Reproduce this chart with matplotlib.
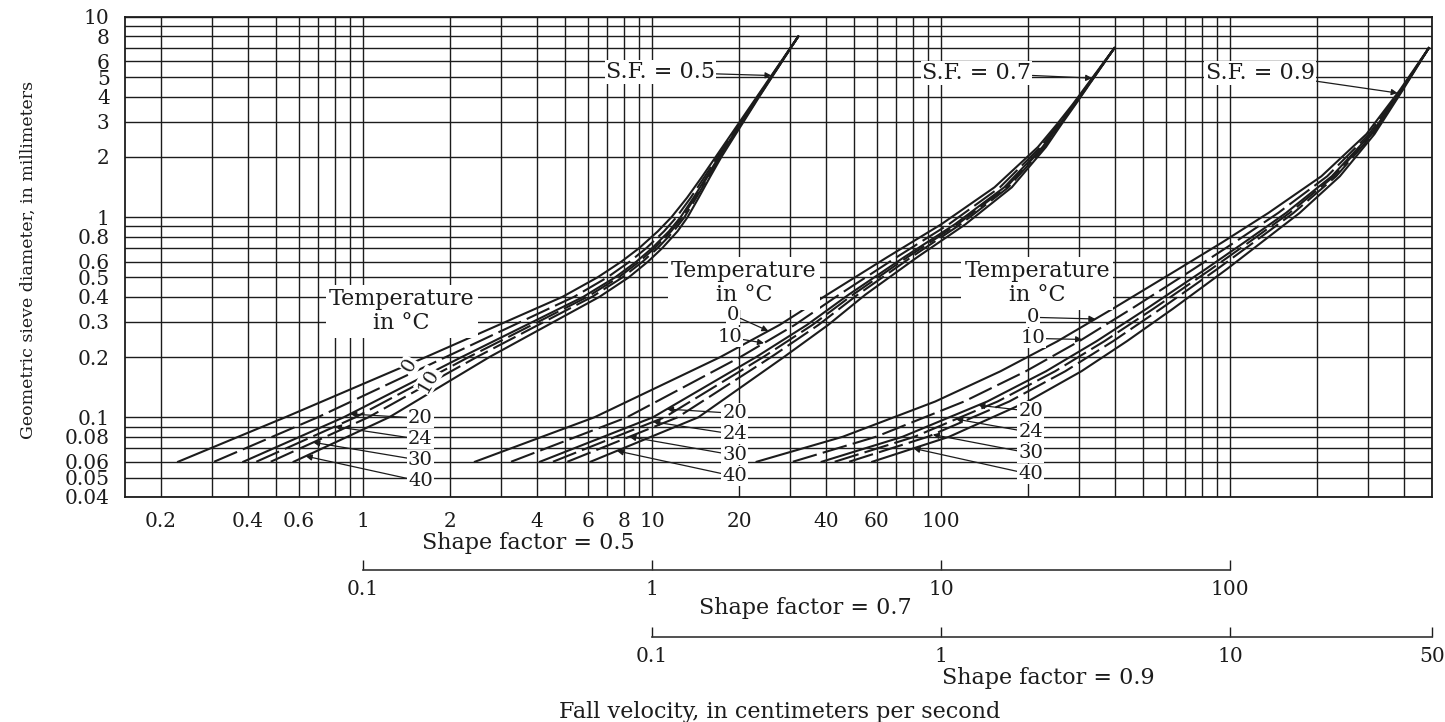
import numpy as np
import matplotlib.pyplot as plt
from matplotlib.ticker import LogLocator, NullLocator, NullFormatter

plt.rcParams['font.family'] = ['DejaVu Serif']
INK = '#1c1c1c'

# water temperature (deg C) of each curve, same order in every family
temps = ['0', '10', '20', '24', '30', '40']
styles = ['-', (0, (12, 3)), '-', (0, (12, 3)), (0, (12, 3)), '-']

# shape factor 0.5 -> velocities read on the first scale (cm/s)
diam_sf05 = [0.06, 0.1, 0.2, 0.4, 0.5, 0.6, 0.7, 0.85, 1.0, 1.25, 1.6, 2.0, 4.0, 8.0]
vel_sf05 = [
    [0.229, 0.537, 1.648, 4.898, 6.471, 7.834, 9.016, 10.47, 11.67, 13.21, 14.93, 16.60, 23.07, 32.06],
    [0.305, 0.696, 1.931, 5.370, 6.997, 8.371, 9.550, 11.00, 12.15, 13.60, 15.23, 16.84, 23.20, 32.06],
    [0.385, 0.856, 2.192, 5.781, 7.444, 8.828, 10.00, 11.44, 12.55, 13.91, 15.48, 17.03, 23.31, 32.06],
    [0.427, 0.940, 2.320, 5.976, 7.654, 9.040, 10.21, 11.64, 12.73, 14.06, 15.59, 17.12, 23.36, 32.06],
    [0.479, 1.042, 2.472, 6.200, 7.896, 9.282, 10.45, 11.87, 12.94, 14.22, 15.72, 17.22, 23.41, 32.06],
    [0.575, 1.230, 2.735, 6.577, 8.299, 9.683, 10.84, 12.25, 13.27, 14.49, 15.92, 17.38, 23.50, 32.06],
]

# shape factor 0.7 -> velocities read on the second scale (cm/s)
diam_sf07 = [0.06, 0.1, 0.2, 0.29, 0.41, 0.63, 0.92, 1.41, 2.24, 2.9, 3.67, 7.0]
vel_sf07 = [
    [0.2438, 0.631, 1.722, 2.767, 4.036, 6.501, 10.00, 15.31, 21.63, 25.12, 28.58, 39.81],
    [0.3251, 0.818, 2.018, 3.123, 4.440, 7.007, 10.62, 15.99, 22.07, 25.41, 28.79, 39.81],
    [0.4093, 1.006, 2.290, 3.440, 4.789, 7.438, 11.15, 16.55, 22.43, 25.64, 28.95, 39.81],
    [0.4539, 1.104, 2.424, 3.593, 4.955, 7.641, 11.39, 16.81, 22.59, 25.75, 29.03, 39.81],
    [0.5093, 1.225, 2.582, 3.771, 5.147, 7.874, 11.67, 17.10, 22.77, 25.87, 29.11, 39.81],
    [0.6124, 1.445, 2.858, 4.074, 5.470, 8.260, 12.13, 17.58, 23.07, 26.06, 29.24, 39.81],
]

# shape factor 0.9 -> velocities read on the third scale (cm/s)
diam_sf09 = [0.06, 0.08, 0.12, 0.17, 0.24, 0.35, 0.55, 0.75, 1.05, 1.6, 2.6, 4.3, 7.0]
vel_sf09 = [
    [0.2301, 0.4571, 0.955, 1.607, 2.529, 3.945, 6.622, 9.419, 13.58, 20.70, 29.65, 38.64, 48.75],
    [0.3069, 0.5957, 1.202, 1.966, 3.006, 4.581, 7.473, 10.39, 14.68, 21.68, 30.26, 38.92, 48.75],
    [0.3864, 0.7362, 1.445, 2.309, 3.451, 5.164, 8.232, 11.23, 15.62, 22.49, 30.75, 39.15, 48.75],
    [0.4285, 0.8098, 1.570, 2.483, 3.673, 5.451, 8.598, 11.64, 16.07, 22.87, 30.97, 39.26, 48.75],
    [0.4808, 0.9003, 1.722, 2.692, 3.936, 5.785, 9.025, 12.10, 16.58, 23.29, 31.22, 39.36, 48.75],
    [0.5781, 1.067, 1.995, 3.062, 4.395, 6.368, 9.750, 12.88, 17.42, 23.99, 31.62, 39.54, 48.75],
]

xticks_main = [0.2, 0.4, 0.6, 1, 2, 4, 6, 8, 10, 20, 40, 60, 100]
xlabels_main = ['0.2', '0.4', '0.6', '1', '2', '4', '6', '8', '10', '20', '40', '60', '100']
yticks = [0.04, 0.05, 0.06, 0.08, 0.1, 0.2, 0.3, 0.4, 0.5, 0.6, 0.8,
          1, 2, 3, 4, 5, 6, 8, 10]
ylabels = ['0.04', '0.05', '0.06', '0.08', '0.1', '0.2', '0.3', '0.4', '0.5',
           '0.6', '0.8', '1', '2', '3', '4', '5', '6', '8', '10']
sf07_ticks = [0.1, 1, 10, 100]
sf07_labels = ['0.1', '1', '10', '100']
sf09_ticks = [0.1, 1, 10, 50]
sf09_labels = ['0.1', '1', '10', '50']

W, H = 1445, 722
fig = plt.figure(figsize=(W / 100, H / 100), dpi=100)
rect = [125 / W, 1 - 497 / H, 1307 / W, 480 / H]

ax = fig.add_axes(rect)
ax.set_xscale('log')
ax.set_yscale('log')
ax.set_xlim(0.15, 5000)
ax.set_ylim(0.04, 10)
ax.set_xticks(xticks_main, xlabels_main)
ax.set_yticks(yticks, ylabels)
ax.xaxis.set_minor_locator(LogLocator(base=10, subs=np.arange(1, 10), numticks=100))
ax.yaxis.set_minor_locator(LogLocator(base=10, subs=np.arange(1, 10), numticks=100))
ax.xaxis.set_minor_formatter(NullFormatter())
ax.yaxis.set_minor_formatter(NullFormatter())
ax.grid(True, which='both', color=INK, lw=1.0)
ax.tick_params(which='both', length=0, labelsize=14.5, colors=INK, pad=11)
for s in ax.spines.values():
    s.set_color(INK)
    s.set_linewidth(1.3)


def family_axes(shift):
    a = fig.add_axes(rect)
    a.set_xscale('log')
    a.set_yscale('log')
    a.set_xlim(0.15 / shift, 5000 / shift)
    a.set_ylim(0.04, 10)
    a.set_axis_off()
    a.patch.set_visible(False)
    return a


ax07 = family_axes(10)
ax09 = family_axes(100)

families = [(ax, diam_sf05, vel_sf05), (ax07, diam_sf07, vel_sf07), (ax09, diam_sf09, vel_sf09)]
for a, diam, vel in families:
    for v, ls in zip(vel, styles):
        a.plot(v, diam, color=INK, lw=1.5, ls=ls)


def on_curve(vel, diam, d):
    return 10 ** np.interp(np.log10(d), np.log10(diam), np.log10(vel))


box = dict(boxstyle='square,pad=0.05', fc='white', ec='none')
arrow = dict(arrowstyle='-|>', color=INK, lw=0.9, mutation_scale=9, shrinkA=0, shrinkB=0)
txt = dict(fontsize=16, color=INK, bbox=box)
num = dict(fontsize=14, color=INK, bbox=box)

# label placement per family: S.F. tag, temperature box, 0/10 labels, 20..40 labels
labels = [
    (ax, diam_sf05, vel_sf05, 'S.F. = 0.5', (10.7, 5.3), 5.1, (1.36, 0.339),
     None, 1.43, [0.0989, 0.0776, 0.0610, 0.0479], [0.104, 0.09, 0.075, 0.064]),
    (ax07, diam_sf07, vel_sf07, 'S.F. = 0.7', (13.3, 5.25), 4.95, (2.08, 0.468),
     [(1.91, 0.324, 0.27), (1.86, 0.251, 0.235)], 1.75,
     [0.1047, 0.0822, 0.0646, 0.0507], [0.11, 0.095, 0.08, 0.068]),
    (ax09, diam_sf09, vel_sf09, 'S.F. = 0.9', (12.7, 5.25), 4.17, (2.15, 0.468),
     [(2.08, 0.316, 0.31), (2.08, 0.248, 0.245)], 1.85,
     [0.1072, 0.0841, 0.0661, 0.0519], [0.115, 0.098, 0.082, 0.07]),
]

for a, diam, vel, tag, tag_xy, tag_d, tbox, low, nx, nds, tds in labels:
    a.annotate(tag, xy=(on_curve(vel[0], diam, tag_d), tag_d), xytext=tag_xy,
               ha='center', va='center', arrowprops=arrow, **txt)
    a.text(tbox[0], tbox[1], 'Temperature\nin °C', ha='center', va='center',
           linespacing=1.15, fontsize=16, color=INK,
           bbox=dict(boxstyle='square,pad=0.15', fc='white', ec='none'))
    if low is None:
        a.text(1.45, 0.182, '0', rotation=60, ha='center', va='center', **num)
        a.text(1.68, 0.153, '10', rotation=60, ha='center', va='center', **num)
    else:
        for i, (lx, ld, td) in enumerate(low):
            a.annotate(temps[i], xy=(on_curve(vel[i], diam, td), td), xytext=(lx, ld),
                       ha='center', va='center', arrowprops=arrow, **num)
    for k, (ld, td) in enumerate(zip(nds, tds)):
        i = k + 2
        a.annotate(temps[i], xy=(on_curve(vel[i], diam, td), td), xytext=(nx, ld),
                   ha='left', va='center', arrowprops=arrow, **num)

inv = fig.transFigure.inverted()


def scale_bar(a, ticks, tick_labels, y_px):
    x0 = inv.transform(a.transData.transform((ticks[0], 1)))[0]
    x1 = inv.transform(a.transData.transform((ticks[-1], 1)))[0]
    s = fig.add_axes([x0, 1 - y_px / H, x1 - x0, 0.0005])
    s.set_xscale('log')
    s.set_xlim(ticks[0], ticks[-1])
    s.patch.set_visible(False)
    for side in ('top', 'left', 'right'):
        s.spines[side].set_visible(False)
    s.spines['bottom'].set_color('#333333')
    s.spines['bottom'].set_linewidth(1.2)
    s.set_yticks([])
    s.set_xticks(ticks, tick_labels)
    s.xaxis.set_minor_locator(NullLocator())
    s.tick_params(axis='x', direction='in', length=7, width=1.0, pad=7,
                  labelsize=14.5, colors=INK)
    return s


scale_bar(ax07, sf07_ticks, sf07_labels, 570)
scale_bar(ax09, sf09_ticks, sf09_labels, 637)

fig.text(528 / W, 1 - 543 / H, 'Shape factor = 0.5', ha='center', va='center', fontsize=16, color=INK)
fig.text(805 / W, 1 - 608 / H, 'Shape factor = 0.7', ha='center', va='center', fontsize=16, color=INK)
fig.text(1048 / W, 1 - 678 / H, 'Shape factor = 0.9', ha='center', va='center', fontsize=16, color=INK)
fig.text(780 / W, 1 - 712 / H, 'Fall velocity, in centimeters per second', ha='center',
         va='center', fontsize=16, color=INK)
fig.text(28 / W, 1 - 260 / H, 'Geometric sieve diameter, in millimeters', rotation=90,
         ha='center', va='center', fontsize=12.5, color=INK)

fig.savefig('out.png', dpi=100)
